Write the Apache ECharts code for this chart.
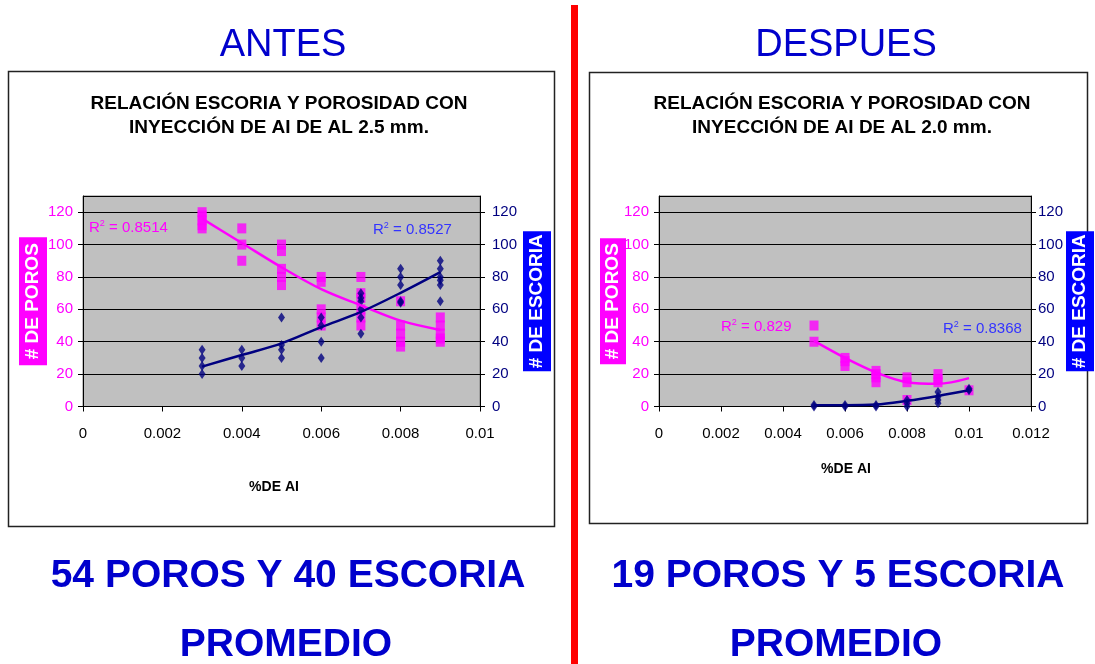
<!DOCTYPE html>
<html>
<head>
<meta charset="utf-8">
<script src="https://cdn.jsdelivr.net/npm/echarts@6/dist/echarts.min.js"></script>
<style>
html, body { margin: 0; padding: 0; background: #fff; }
#c { width: 1095px; height: 664px; }
</style>
</head>
<body>
<div id="c"></div>
<script>
// ---- Data: Al content levels and readings per level ----
const antesX = [0.003, 0.004, 0.005, 0.006, 0.007, 0.008, 0.009];
const antesPoros = [
  [120, 118, 115, 112, 110],
  [110, 100, 90],
  [100, 96, 85, 80, 75],
  [80, 77, 60, 55, 50],
  [80, 70, 67, 60, 55, 50],
  [65, 50, 45, 40, 37],
  [55, 50, 45, 42, 40]
];
const antesEscoria = [
  [35, 30, 25, 20],
  [35, 30, 25],
  [55, 38, 35, 30],
  [55, 50, 40, 30],
  [70, 67, 65, 60, 55, 45],
  [85, 80, 75, 65, 64],
  [90, 85, 80, 78, 75, 65]
];
const antesPorosTrend = [116, 101, 86, 72.5, 62.5, 53, 47.3];
const antesEscoriaTrend = [24.6, 31.8, 39, 49, 58.4, 70.2, 83];

const despuesX = [0.005, 0.006, 0.007, 0.008, 0.009, 0.01];
const despuesPoros = [
  [50, 40],
  [30, 28, 25],
  [22, 20, 18, 15],
  [18, 15, 4],
  [20, 17, 15],
  [10]
];
const despuesEscoria = [
  [1, 0],
  [1, 0],
  [1, 0],
  [4, 2, 0],
  [9, 6, 4, 2],
  [11, 10]
];
const despuesPorosTrend = [40.5, 30, 21, 15, 14, 17.5];
const despuesEscoriaTrend = [0.8, 0.8, 1.2, 3.5, 6.5, 10];

const yTicks = [0, 20, 40, 60, 80, 100, 120];
const r2Labels = ['0.8514', '0.8527', '0.829', '0.8368'];

// ---- Helpers ----
function points(xs, groups) {
  const out = [];
  xs.forEach((x, i) => groups[i].forEach(v => out.push([x, v])));
  return out;
}
function line(xs, vals) {
  return xs.map((x, i) => [x, vals[i]]);
}

const MAGENTA = '#FF00FF';
const NAVY = '#000080';
const BLUE = '#0000CC';
const FONT = 'Liberation Sans, Arial, sans-serif';

function xAxis(gridIndex, max) {
  return {
    type: 'value', gridIndex: gridIndex, min: 0, max: max, interval: 0.002,
    axisLine: { show: true, onZero: false, lineStyle: { color: '#000', width: 1 } },
    axisTick: { show: true, inside: false, length: 5, lineStyle: { color: '#000' } },
    axisLabel: { color: '#000', fontSize: 15, fontFamily: FONT, margin: 20,
      formatter: v => String(+v.toFixed(3)) },
    splitLine: { show: false }
  };
}
function yAxis(gridIndex, side, color, name, nameBg, gap, labelMargin, pad) {
  return {
    type: 'value', gridIndex: gridIndex, position: side, min: 0, max: 130, interval: 20,
    name: name, nameLocation: 'middle', nameRotate: 90, nameGap: gap, nameMoveOverlap: false,
    nameTextStyle: { color: '#fff', backgroundColor: nameBg, fontWeight: 'bold',
      fontSize: 19, fontFamily: FONT, lineHeight: 22, padding: pad },
    axisLine: { show: true, onZero: false, lineStyle: { color: '#000', width: 1 } },
    axisTick: { show: true, inside: false, length: 5, lineStyle: { color: '#000' } },
    axisLabel: { color: color, fontSize: 15, fontFamily: FONT, margin: labelMargin,
      showMaxLabel: false,
      formatter: v => (yTicks.indexOf(v) >= 0 ? String(v) : '') },
    splitLine: { show: side === 'left', lineStyle: { color: '#000', width: 1 } }
  };
}
function scatter(name, xi, yi, data, symbol, size, color) {
  return { name: name, type: 'scatter', xAxisIndex: xi, yAxisIndex: yi, data: data,
    symbol: symbol, symbolSize: size, itemStyle: { color: color }, z: 3, silent: true };
}
function trend(name, xi, yi, data, color) {
  return { name: name, type: 'line', xAxisIndex: xi, yAxisIndex: yi, data: data,
    smooth: 0.35, showSymbol: false, symbol: 'none',
    lineStyle: { color: color, width: 2.5 }, z: 4, silent: true };
}
function text(x, y, str, size, weight, color, align) {
  return { type: 'text', x: x, y: y, silent: true,
    style: { text: str, fill: color, fontSize: size, fontWeight: weight, fontFamily: FONT,
      align: align || 'center', verticalAlign: 'middle' } };
}
function r2(x, y, val, color) {
  return { type: 'text', x: x, y: y, silent: true,
    style: { text: '{r|R}{s|2}{r| = ' + val + '}', align: 'left', verticalAlign: 'middle',
      rich: {
        r: { fontSize: 15, fontFamily: FONT, fill: color, lineHeight: 18 },
        s: { fontSize: 9, fontFamily: FONT, fill: color, verticalAlign: 'top', lineHeight: 10 }
      } } };
}

const chart = echarts.init(document.getElementById('c'), null, { renderer: 'canvas' });

chart.setOption({
  backgroundColor: '#fff',
  animation: false,
  textStyle: { fontFamily: FONT },
  grid: [
    { left: 83, top: 196, width: 397, height: 210.5, show: true,
      backgroundColor: '#C0C0C0', borderColor: '#808080', borderWidth: 1 },
    { left: 659, top: 196, width: 373, height: 210.5, show: true,
      backgroundColor: '#C0C0C0', borderColor: '#808080', borderWidth: 1 }
  ],
  xAxis: [xAxis(0, 0.01), xAxis(1, 0.012)],
  yAxis: [
    yAxis(0, 'left', MAGENTA, '# DE POROS', MAGENTA, 36, 10, [3, 6, 3, 6]),
    yAxis(0, 'right', NAVY, '# DE ESCORIA', '#0000FF', 43, 12, [3, 3, 3, 3]),
    yAxis(1, 'left', MAGENTA, '# DE POROS', MAGENTA, 33, 10, [2, 5, 2, 5]),
    yAxis(1, 'right', NAVY, '# DE ESCORIA', '#0000FF', 35, 7, [3, 3, 3, 3])
  ],
  series: [
    scatter('# DE POROS', 0, 0, points(antesX, antesPoros), 'rect', [9, 10], MAGENTA),
    scatter('# DE ESCORIA', 0, 1, points(antesX, antesEscoria), 'diamond', [7, 10], NAVY),
    trend('Tendencia poros', 0, 0, line(antesX, antesPorosTrend), MAGENTA),
    trend('Tendencia escoria', 0, 1, line(antesX, antesEscoriaTrend), NAVY),
    scatter('# DE POROS', 1, 2, points(despuesX, despuesPoros), 'rect', [9, 10], MAGENTA),
    scatter('# DE ESCORIA', 1, 3, points(despuesX, despuesEscoria), 'diamond', [7, 10], NAVY),
    trend('Tendencia poros', 1, 2, line(despuesX, despuesPorosTrend), MAGENTA),
    trend('Tendencia escoria', 1, 3, line(despuesX, despuesEscoriaTrend), NAVY)
  ],
  graphic: [
    // chart frames
    { type: 'rect', silent: true, shape: { x: 8.5, y: 71.5, width: 546, height: 455 },
      style: { fill: 'none', stroke: '#222', lineWidth: 1.5 } },
    { type: 'rect', silent: true, shape: { x: 589.5, y: 72.5, width: 498, height: 451 },
      style: { fill: 'none', stroke: '#222', lineWidth: 1.5 } },
    // divider
    { type: 'rect', silent: true, shape: { x: 571, y: 5, width: 7, height: 659 },
      style: { fill: '#FF0000' } },
    // headings
    text(283, 46, 'ANTES', 38, 'normal', BLUE),
    text(846, 46, 'DESPUES', 38, 'normal', BLUE),
    // chart titles
    text(279, 104, 'RELACIÓN ESCORIA Y POROSIDAD CON', 19, 'bold', '#000'),
    text(279, 128, 'INYECCIÓN DE AI DE AL 2.5 mm.', 19, 'bold', '#000'),
    text(842, 104, 'RELACIÓN ESCORIA Y POROSIDAD CON', 19, 'bold', '#000'),
    text(842, 128, 'INYECCIÓN DE AI DE AL 2.0 mm.', 19, 'bold', '#000'),
    // x axis names
    text(274, 487, '%DE AI', 14, 'bold', '#000'),
    text(846, 469, '%DE AI', 14, 'bold', '#000'),
    // R² annotations
    r2(89, 228, r2Labels[0], MAGENTA),
    r2(373, 230, r2Labels[1], '#3333FF'),
    r2(721, 327, r2Labels[2], MAGENTA),
    r2(943, 329, r2Labels[3], '#3333FF'),
    // summaries
    text(288, 576, '54 POROS Y 40 ESCORIA', 39, 'bold', BLUE),
    text(286, 645, 'PROMEDIO', 39, 'bold', BLUE),
    text(838, 576, '19 POROS Y 5 ESCORIA', 39, 'bold', BLUE),
    text(836, 645, 'PROMEDIO', 39, 'bold', BLUE)
  ]
});
</script>
</body>
</html>
